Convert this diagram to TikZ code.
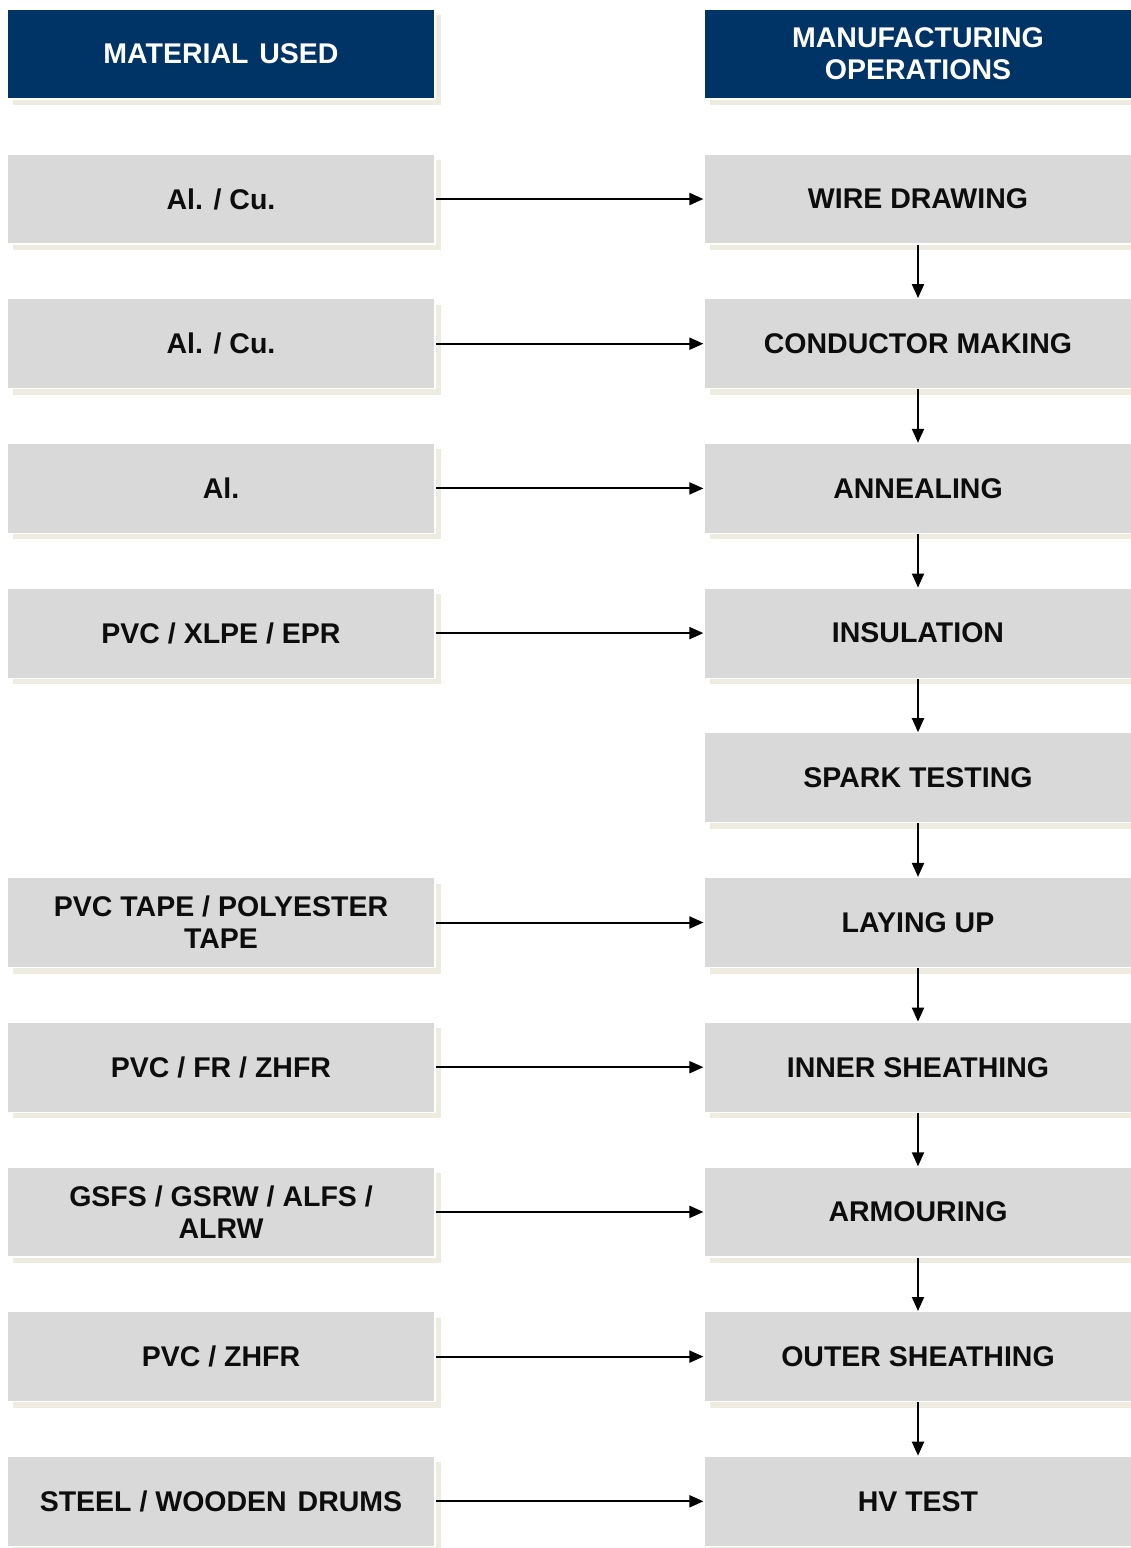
\documentclass[tikz,border=0pt]{standalone}
\usepackage{fontspec}
\setmainfont{Liberation Sans}
\usetikzlibrary{shadows,arrows.meta}
\definecolor{navy}{RGB}{0,51,102}
\definecolor{boxgray}{RGB}{217,217,217}
\definecolor{shade}{RGB}{238,236,225}
\begin{document}
\begin{tikzpicture}[x=1pt,y=-1pt,
 box/.style={minimum width=428pt, minimum height=90pt, inner sep=0pt, fill=boxgray, draw=white, line width=1.2pt, align=center, font=\fontsize{28.5}{32}\selectfont\bfseries, text=black!95, drop shadow={shadow xshift=6pt, shadow yshift=-6pt, fill=shade, opacity=1}},
 head/.style={box, fill=navy, text=white},
 arr/.style={-{Triangle[length=14pt,width=12pt]}, line width=2pt}]
\useasboundingbox (0,0) rectangle (1131,1548);
\node[head] (hl) at (221,54) {MATERIAL \hspace{3pt}USED};
\node[head] (hr) at (918,54) {MANUFACTURING\\OPERATIONS};
\node[box] (r1) at (918,199) {WIRE DRAWING};
\node[box] (r2) at (918,343.7) {CONDUCTOR MAKING};
\node[box] (r3) at (918,488.4) {ANNEALING};
\node[box] (r4) at (918,633.1) {INSULATION};
\node[box] (r5) at (918,777.8) {SPARK TESTING};
\node[box] (r6) at (918,922.5) {LAYING UP};
\node[box] (r7) at (918,1067.2) {INNER SHEATHING};
\node[box] (r8) at (918,1211.9) {ARMOURING};
\node[box] (r9) at (918,1356.6) {OUTER SHEATHING};
\node[box] (r10) at (918,1501.3) {HV TEST};
\node[box] (l1) at (221,199) {Al. / Cu.};
\node[box] (l2) at (221,343.7) {Al. / Cu.};
\node[box] (l3) at (221,488.4) {Al.};
\node[box] (l4) at (221,633.1) {PVC / XLPE / EPR};
\node[box] (l6) at (221,922.5) {PVC TAPE / POLYESTER\\TAPE};
\node[box] (l7) at (221,1067.2) {PVC / FR / ZHFR};
\node[box] (l8) at (221,1211.9) {GSFS / GSRW / ALFS /\\ALRW};
\node[box] (l9) at (221,1356.6) {PVC / ZHFR};
\node[box] (l10) at (221,1501.3) {STEEL / WOODEN \hspace{3pt}DRUMS};
\foreach \i in {1,2,3,4,6,7,8,9,10} {\draw[arr] (l\i) -- (r\i);}
\foreach \i/\j in {1/2,2/3,3/4,4/5,5/6,6/7,7/8,8/9,9/10} {\draw[arr] (r\i) -- (r\j);}
\end{tikzpicture}
\end{document}
